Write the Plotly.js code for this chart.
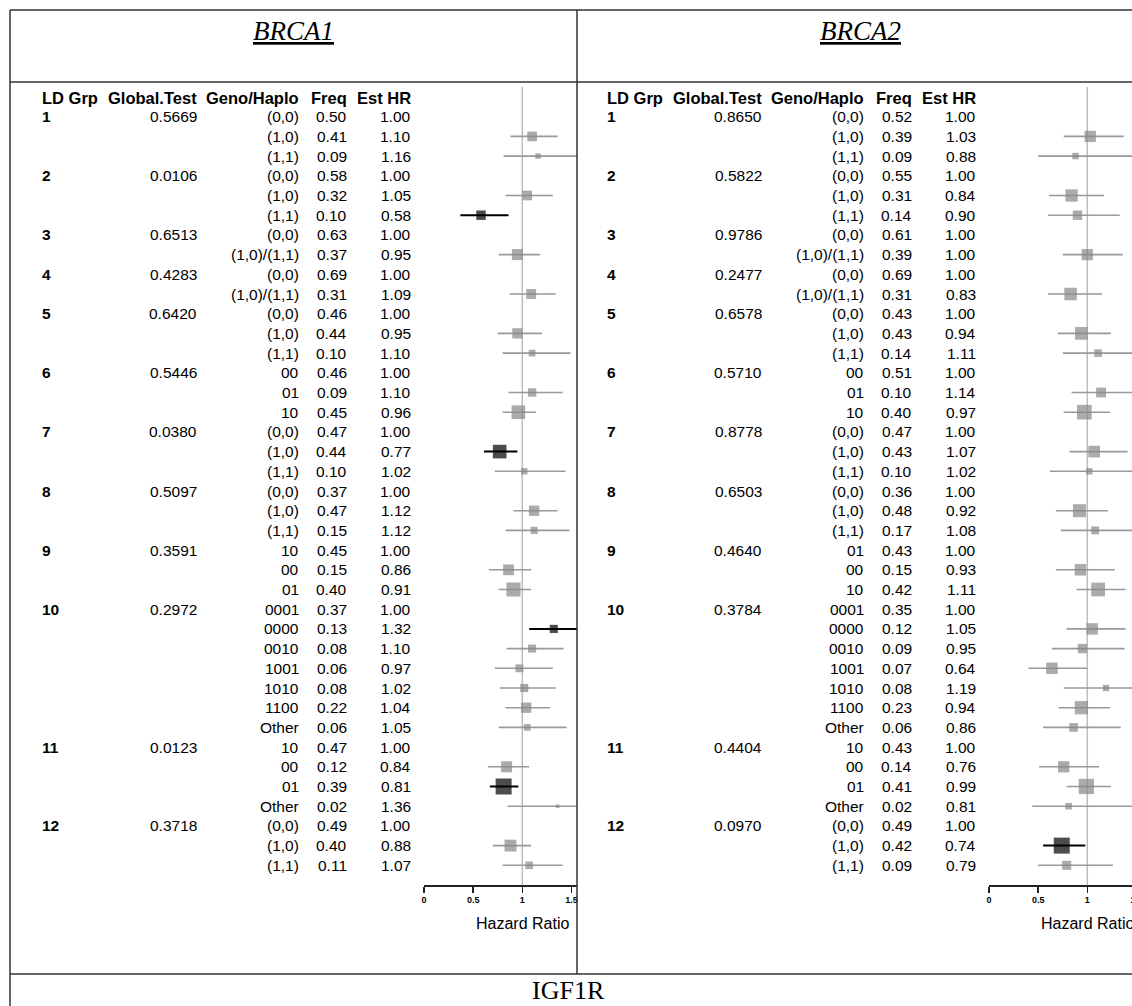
<!DOCTYPE html>
<html><head><meta charset="utf-8">
<script src="https://cdn.plot.ly/plotly-3.0.1.min.js"></script>
<style>html,body{margin:0;padding:0;overflow:hidden;background:#fff;} #chart{width:1144px;height:1006px;}</style>
</head><body><div id="chart"></div>
<script>
// ---------------- data ----------------
const ldGroup = [1,1,1,2,2,2,3,3,4,4,5,5,5,6,6,6,7,7,7,8,8,8,9,9,9,10,10,10,10,10,10,10,11,11,11,11,12,12,12];

// BRCA1
const brca1Global = ["0.5669","0.0106","0.6513","0.4283","0.6420","0.5446","0.0380","0.5097","0.3591","0.2972","0.0123","0.3718"];
const brca1Haplo = ["(0,0)","(1,0)","(1,1)","(0,0)","(1,0)","(1,1)","(0,0)","(1,0)/(1,1)","(0,0)","(1,0)/(1,1)",
  "(0,0)","(1,0)","(1,1)","00","01","10","(0,0)","(1,0)","(1,1)","(0,0)","(1,0)","(1,1)","10","00","01",
  "0001","0000","0010","1001","1010","1100","Other","10","00","01","Other","(0,0)","(1,0)","(1,1)"];
const brca1Freq = [0.50,0.41,0.09,0.58,0.32,0.10,0.63,0.37,0.69,0.31,0.46,0.44,0.10,0.46,0.09,0.45,0.47,0.44,0.10,
  0.37,0.47,0.15,0.45,0.15,0.40,0.37,0.13,0.08,0.06,0.08,0.22,0.06,0.47,0.12,0.39,0.02,0.49,0.40,0.11];
const brca1HR = [1.00,1.10,1.16,1.00,1.05,0.58,1.00,0.95,1.00,1.09,1.00,0.95,1.10,1.00,1.10,0.96,1.00,0.77,1.02,
  1.00,1.12,1.12,1.00,0.86,0.91,1.00,1.32,1.10,0.97,1.02,1.04,1.05,1.00,0.84,0.81,1.36,1.00,0.88,1.07];
const brca1Lo = [null,0.88,0.81,null,0.83,0.37,null,0.76,null,0.87,null,0.75,0.80,null,0.86,0.80,null,0.61,0.72,
  null,0.91,0.83,null,0.66,0.76,null,1.07,0.84,0.72,0.77,0.83,0.76,null,0.65,0.67,0.85,null,0.70,0.80];
const brca1Hi = [null,1.36,1.66,null,1.31,0.86,null,1.18,null,1.34,null,1.20,1.49,null,1.41,1.14,null,0.95,1.44,
  null,1.36,1.48,null,1.09,1.09,null,1.64,1.42,1.31,1.34,1.28,1.45,null,1.07,0.96,2.18,null,1.09,1.41];

// BRCA2
const brca2Global = ["0.8650","0.5822","0.9786","0.2477","0.6578","0.5710","0.8778","0.6503","0.4640","0.3784","0.4404","0.0970"];
const brca2Haplo = ["(0,0)","(1,0)","(1,1)","(0,0)","(1,0)","(1,1)","(0,0)","(1,0)/(1,1)","(0,0)","(1,0)/(1,1)",
  "(0,0)","(1,0)","(1,1)","00","01","10","(0,0)","(1,0)","(1,1)","(0,0)","(1,0)","(1,1)","01","00","10",
  "0001","0000","0010","1001","1010","1100","Other","10","00","01","Other","(0,0)","(1,0)","(1,1)"];
const brca2Freq = [0.52,0.39,0.09,0.55,0.31,0.14,0.61,0.39,0.69,0.31,0.43,0.43,0.14,0.51,0.10,0.40,0.47,0.43,0.10,
  0.36,0.48,0.17,0.43,0.15,0.42,0.35,0.12,0.09,0.07,0.08,0.23,0.06,0.43,0.14,0.41,0.02,0.49,0.42,0.09];
const brca2HR = [1.00,1.03,0.88,1.00,0.84,0.90,1.00,1.00,1.00,0.83,1.00,0.94,1.11,1.00,1.14,0.97,1.00,1.07,1.02,
  1.00,0.92,1.08,1.00,0.93,1.11,1.00,1.05,0.95,0.64,1.19,0.94,0.86,1.00,0.76,0.99,0.81,1.00,0.74,0.79];
const brca2Lo = [null,0.76,0.50,null,0.61,0.60,null,0.75,null,0.60,null,0.70,0.75,null,0.84,0.76,null,0.82,0.62,
  null,0.68,0.73,null,0.68,0.89,null,0.79,0.64,0.40,0.76,0.71,0.55,null,0.51,0.79,0.44,null,0.55,0.50];
const brca2Hi = [null,1.37,1.56,null,1.17,1.33,null,1.36,null,1.15,null,1.24,1.65,null,1.54,1.23,null,1.41,1.68,
  null,1.21,1.60,null,1.28,1.39,null,1.39,1.38,1.00,1.86,1.23,1.34,null,1.12,1.24,1.49,null,0.98,1.26];

const panelTitles = ["BRCA1","BRCA2"];
const headers = ["LD Grp","Global.Test","Geno/Haplo","Freq","Est HR"];
const axisTicks = [0,0.5,1,1.5];
const axisTickText = ["0","0.5","1","1.5"];
const axisLabel = "Hazard Ratio";
const footerText = "IGF1R";

// ---------------- layout constants ----------------
const W = 1144, H = 1006;
const ROW0 = 116.7, ROWH = 19.7;
const rowAt = px => (px - ROW0) / ROWH;
const PX = 98.3;          // pixels per HR unit
const SANS = "Liberation Sans, Arial, sans-serif";
const NARROW = "Liberation Sans Narrow, Arial Narrow, Liberation Sans, Arial, sans-serif";
const SERIF = "Liberation Serif, Times New Roman, serif";
const GRAYBOX = "#888888", GRAYLINE = "#999999";

const panels = [
  {title: panelTitles[0], glob: brca1Global, haplo: brca1Haplo, freq: brca1Freq, hr: brca1HR, lo: brca1Lo, hi: brca1Hi,
   off: 0, xa: "x", right: 577, left: 10},
  {title: panelTitles[1], glob: brca2Global, haplo: brca2Haplo, freq: brca2Freq, hr: brca2HR, lo: brca2Lo, hi: brca2Hi,
   off: 565, xa: "x2", right: W, left: 577}
];
const COLS = {grp: 41, glob: 198, haplo: 300, freq: 347.5, hr: 412};

const traces = [];
const annotations = [];
const shapes = [];

panels.forEach(p => {
  const n = p.hr.length;
  const widths = p.hr.map((v, i) => p.lo[i] == null ? null : p.hi[i] - p.lo[i]);
  const minW = Math.min(...widths.filter(w => w != null));
  const gx = [], gy = [], bx = [], by = [];
  const mx = [], my = [], ms = [], mc = [];
  for (let i = 0; i < n; i++) {
    if (p.lo[i] == null) continue;
    const sig = p.hi[i] < 1 || p.lo[i] > 1;
    (sig ? bx : gx).push(p.lo[i], p.hi[i], null);
    (sig ? by : gy).push(i, i, null);
    mx.push(p.hr[i]); my.push(i); ms.push(16 * minW / widths[i]); mc.push(sig ? "#000" : GRAYBOX);
  }
  traces.push({x: gx, y: gy, xaxis: p.xa, yaxis: "y", mode: "lines", line: {color: GRAYLINE, width: 1.6}, hoverinfo: "skip", showlegend: false});
  traces.push({x: bx, y: by, xaxis: p.xa, yaxis: "y", mode: "lines", line: {color: "#000", width: 2}, hoverinfo: "skip", showlegend: false});
  traces.push({x: mx, y: my, xaxis: p.xa, yaxis: "y", mode: "markers",
    marker: {symbol: "square", size: ms, color: mc, line: {width: 0}}, hoverinfo: "skip", showlegend: false});

  shapes.push({type: "line", xref: p.xa, yref: "y", x0: 1, x1: 1, y0: rowAt(87), y1: rowAt(885),
    line: {color: "#bdbdbd", width: 1.5}, layer: "below"});

  const hy = rowAt(98);
  const hdrPos = [[COLS.grp, "left"], [COLS.glob, "right"], [COLS.haplo, "right"], [COLS.freq, "right"], [COLS.hr, "right"]];
  headers.forEach((h, k) => {
    annotations.push({xref: "paper", yref: "y", x: (hdrPos[k][0] + p.off) / W, y: hy, text: h, showarrow: false,
      xanchor: hdrPos[k][1], yanchor: "middle", font: {family: SANS, size: 16.5, color: "#000", weight: "bold"}, borderpad: 0});
  });

  for (let i = 0; i < n; i++) {
    const first = i === 0 || ldGroup[i] !== ldGroup[i - 1];
    const f = {family: NARROW, size: 15.5, color: "#000"};
    const fb = {family: SANS, size: 15.5, color: "#000", weight: "bold"};
    if (first) {
      annotations.push({xref: "paper", yref: "y", x: (COLS.grp + p.off) / W, y: i, text: String(ldGroup[i]), showarrow: false,
        xanchor: "left", yanchor: "middle", font: fb, borderpad: 0});
      annotations.push({xref: "paper", yref: "y", x: (COLS.glob + p.off) / W, y: i, text: p.glob[ldGroup[i] - 1], showarrow: false,
        xanchor: "right", yanchor: "middle", font: f, borderpad: 0});
    }
    annotations.push({xref: "paper", yref: "y", x: (COLS.haplo + p.off) / W, y: i, text: p.haplo[i], showarrow: false,
      xanchor: "right", yanchor: "middle", font: f, borderpad: 0});
    annotations.push({xref: "paper", yref: "y", x: (COLS.freq + p.off) / W, y: i, text: p.freq[i].toFixed(2), showarrow: false,
      xanchor: "right", yanchor: "middle", font: f, borderpad: 0});
    annotations.push({xref: "paper", yref: "y", x: (COLS.hr + p.off) / W, y: i, text: p.hr[i].toFixed(2), showarrow: false,
      xanchor: "right", yanchor: "middle", font: f, borderpad: 0});
  }

  annotations.push({xref: p.xa, yref: "y", x: 1, y: rowAt(923), text: axisLabel, showarrow: false,
    xanchor: "center", yanchor: "middle", font: {family: SANS, size: 16, color: "#000"}});

  annotations.push({xref: "paper", yref: "y", x: ((p.left + p.right) / 2) / W, y: rowAt(31), text: "<u>" + p.title + "</u>",
    showarrow: false, xanchor: "center", yanchor: "middle", font: {family: SERIF, size: 27, color: "#000", style: "italic"}});
});

annotations.push({xref: "paper", yref: "y", x: 568 / W, y: rowAt(990), text: footerText, showarrow: false,
  xanchor: "center", yanchor: "middle", font: {family: SERIF, size: 26, color: "#000"}});

const px2x = v => v / W, px2y = v => 1 - v / H;
const frame = [[10, 10, W, 10], [10, 10, 10, H], [10, 82, W, 82], [577, 10, 577, 974], [10, 974, W, 974], [W - 1, 10, W - 1, H]];
frame.forEach(s => shapes.push({type: "line", xref: "paper", yref: "paper", x0: px2x(s[0]), y0: px2y(s[1]), x1: px2x(s[2]), y1: px2y(s[3]),
  line: {color: "#333", width: 1.5}, layer: "above"}));

const xaxisBase = {
  anchor: "free", position: 1 - 885 / H, showgrid: false, zeroline: false, showline: true,
  linecolor: "#222", linewidth: 1.5, ticks: "outside", ticklen: 6, tickwidth: 1.5, tickcolor: "#222",
  tickvals: axisTicks, ticktext: axisTickText, tickfont: {family: SANS, size: 9, color: "#000", weight: "bold"},
  fixedrange: true
};

const layout = {
  width: W, height: H, margin: {l: 0, r: 0, t: 0, b: 0}, paper_bgcolor: "#fff", plot_bgcolor: "rgba(0,0,0,0)",
  showlegend: false,
  xaxis: Object.assign({}, xaxisBase, {domain: [424 / W, 577 / W], range: [0, (577 - 424) / PX]}),
  xaxis2: Object.assign({}, xaxisBase, {domain: [989 / W, 1], range: [0, (W - 989) / PX]}),
  yaxis: {domain: [0, 1], range: [rowAt(H), rowAt(0)], visible: false, fixedrange: true},
  annotations: annotations, shapes: shapes
};

Plotly.newPlot("chart", traces, layout, {staticPlot: true, displayModeBar: false});
</script></body></html>
